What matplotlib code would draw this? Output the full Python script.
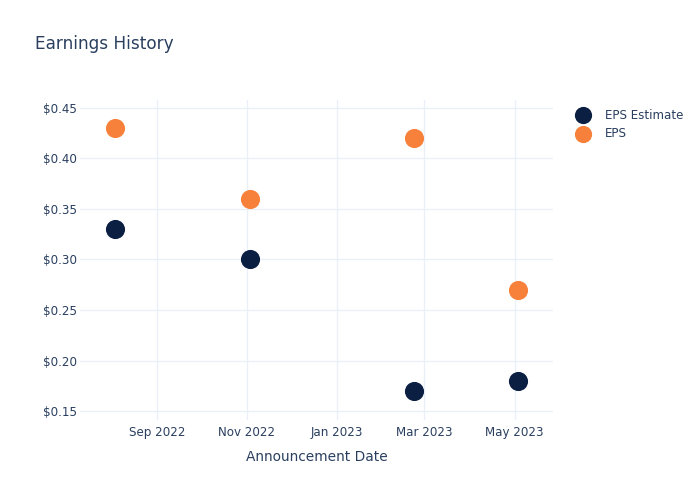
import matplotlib
matplotlib.use("Agg")
import matplotlib.pyplot as plt
import matplotlib.dates as mdates
import numpy as np
import datetime

# data
dates = [datetime.date(2022, 8, 4), datetime.date(2022, 11, 3),
         datetime.date(2023, 2, 22), datetime.date(2023, 5, 3)]
eps_estimate = [0.33, 0.30, 0.17, 0.18]
eps_actual = [0.43, 0.36, 0.42, 0.27]
y_ticks = [0.15, 0.20, 0.25, 0.30, 0.35, 0.40, 0.45]
x_ticks = [datetime.date(2022, 9, 1), datetime.date(2022, 11, 1),
           datetime.date(2023, 1, 1), datetime.date(2023, 3, 1),
           datetime.date(2023, 5, 1)]

TXT = '#2a3f5f'
GRID = '#ebf0f8'
NAVY = '#0b1f42'
ORANGE = '#f7813a'

plt.rcParams['font.family'] = ['DejaVu Sans']

fig = plt.figure(figsize=(7, 5), dpi=100)
ax = fig.add_axes([80/700, 80/500, 473/700, 320/500])

ax.scatter(dates, eps_estimate, s=190, color=NAVY, label='EPS Estimate', zorder=3, linewidths=0)
ax.scatter(dates, eps_actual, s=190, color=ORANGE, label='EPS', zorder=3, linewidths=0)

ax.set_xlim(datetime.date(2022, 7, 11), datetime.date(2023, 5, 27))
ax.set_ylim(0.1411, 0.4579)
ax.set_yticks(y_ticks)
ax.set_yticklabels(['$%.2f' % v for v in y_ticks])
ax.set_xticks(x_ticks)
ax.xaxis.set_major_formatter(mdates.DateFormatter('%b %Y'))

ax.grid(True, color=GRID, linewidth=1)
ax.set_axisbelow(True)
for s in ax.spines.values():
    s.set_visible(False)
ax.tick_params(length=0, colors=TXT, labelsize=8.6)
ax.tick_params(axis='y', pad=2)
ax.tick_params(axis='x', pad=4)

ax.set_xlabel('Announcement Date', fontsize=9.9, color=TXT, labelpad=8)

fig.text(35/700, 1 - 44/500, 'Earnings History', fontsize=12.2, color=TXT, va='center', ha='left')

leg = ax.legend(loc='upper left', bbox_to_anchor=(1.028, 0.988), frameon=False,
                fontsize=8.6, labelcolor=TXT, handletextpad=0.85, borderaxespad=0.0,
                labelspacing=0.45, markerscale=0.9)

fig.savefig('out.png', dpi=100)
